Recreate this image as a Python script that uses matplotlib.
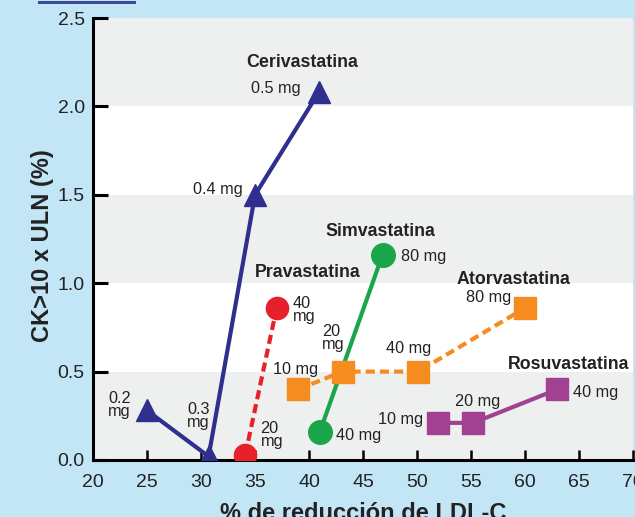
import matplotlib.pyplot as plt
from matplotlib.patches import Rectangle

plt.rcParams['font.family'] = ['Liberation Sans', 'DejaVu Sans']

# data: % LDL-C reduction vs CK>10xULN (%)
ceriva_x = [25, 30.7, 35, 40.9]
ceriva_y = [0.28, 0.02, 1.50, 2.08]
ceriva_doses = ['0.2\nmg', '0.3\nmg', '0.4 mg', '0.5 mg']

prava_x = [34.1, 37.0]
prava_y = [0.03, 0.86]
prava_doses = ['20\nmg', '40\nmg']

simva_x = [41.0, 46.8]
simva_y = [0.16, 1.16]
simva_doses = ['40 mg', '80 mg']

atorva_x = [39.0, 43.1, 50.1, 60.0]
atorva_y = [0.40, 0.50, 0.50, 0.86]
atorva_doses = ['10 mg', '20\nmg', '40 mg', '80 mg']

rosuva_x = [51.9, 55.2, 63.0]
rosuva_y = [0.21, 0.21, 0.40]
rosuva_doses = ['10 mg', '20 mg', '40 mg']

xticks = [20, 25, 30, 35, 40, 45, 50, 55, 60, 65, 70]
yticks = [0.0, 0.5, 1.0, 1.5, 2.0, 2.5]

# colours
bg = '#c3e6f7'
band = '#eef0f0'
navy = '#2e2f8e'
red = '#e8202a'
green = '#1ba54b'
orange = '#f68b1f'
purple = '#a1418f'
txt = '#222222'

fig = plt.figure(figsize=(6.35, 5.17), dpi=100, facecolor=bg)
ax = fig.add_axes([0.1465, 0.1103, 0.8505, 0.8547])
ax.set_xlim(20, 70)
ax.set_ylim(0, 2.5)
ax.set_facecolor('white')

# alternating bands
for i, y0 in enumerate(yticks[:-1]):
    if i % 2 == 0:
        ax.axhspan(y0, y0 + 0.5, color=band, zorder=0, lw=0)

# title box edge peeking at the top
fig.patches.append(Rectangle((38 / 635, 1 - 4 / 517), 98 / 635, 2.5 / 517,
                             transform=fig.transFigure, facecolor='#3d4a9c',
                             edgecolor='none'))

lw = 3.0
ax.plot(ceriva_x, ceriva_y, color=navy, lw=lw, marker='^', ms=16.5, zorder=3)
ax.plot(prava_x, prava_y, color=red, lw=lw, ls=(0, (2.2, 1.2)), marker='o', ms=16, zorder=3)
ax.plot(simva_x, simva_y, color=green, lw=lw, marker='o', ms=17, zorder=3)
ax.plot(atorva_x, atorva_y, color=orange, lw=lw, ls=(0, (2.2, 1.2)), marker='s', ms=15.5, zorder=3)
ax.plot(rosuva_x, rosuva_y, color=purple, lw=lw, marker='s', ms=15.5, zorder=3)

# drug names
name_kw = dict(fontsize=12.8, fontweight='bold', color=txt, ha='center', va='center', zorder=4)
ax.text(39.4, 2.25, 'Cerivastatina', **name_kw)
ax.text(39.9, 1.06, 'Pravastatina', **name_kw)
ax.text(46.6, 1.29, 'Simvastatina', **name_kw)
ax.text(58.9, 1.02, 'Atorvastatina', **name_kw)
ax.text(64.0, 0.54, 'Rosuvastatina', **name_kw)

# dose labels
dose_kw = dict(fontsize=11.7, color=txt, va='center', linespacing=0.85, zorder=4)
ax.text(39.2, 2.10, ceriva_doses[3], ha='right', **dose_kw)
ax.text(33.9, 1.53, ceriva_doses[2], ha='right', **dose_kw)
ax.text(21.4, 0.31, ceriva_doses[0], ha='left', **dose_kw)
ax.text(28.7, 0.25, ceriva_doses[1], ha='left', **dose_kw)

ax.text(38.5, 0.85, prava_doses[1], ha='left', **dose_kw)
ax.text(35.5, 0.14, prava_doses[0], ha='left', **dose_kw)

ax.text(48.5, 1.15, simva_doses[1], ha='left', **dose_kw)
ax.text(42.5, 0.14, simva_doses[0], ha='left', **dose_kw)

ax.text(36.7, 0.51, atorva_doses[0], ha='left', **dose_kw)
ax.text(41.2, 0.69, atorva_doses[1], ha='left', **dose_kw)
ax.text(49.2, 0.63, atorva_doses[2], ha='center', **dose_kw)
ax.text(58.7, 0.92, atorva_doses[3], ha='right', **dose_kw)

ax.text(50.6, 0.23, rosuva_doses[0], ha='right', **dose_kw)
ax.text(55.6, 0.33, rosuva_doses[1], ha='center', **dose_kw)
ax.text(64.4, 0.38, rosuva_doses[2], ha='left', **dose_kw)

# axes styling
for side in ['top', 'right']:
    ax.spines[side].set_visible(False)
for side in ['left', 'bottom']:
    ax.spines[side].set_linewidth(2.2)
    ax.spines[side].set_color('black')
ax.set_xticks(xticks)
ax.set_yticks(yticks)
ax.set_yticklabels([f'{v:.1f}' for v in yticks])
ax.tick_params(axis='x', direction='in', length=7, width=1.8, pad=10, labelcolor=txt)
ax.tick_params(axis='y', direction='in', length=11, width=2.2, pad=6, labelcolor=txt)
for lab in ax.get_xticklabels() + ax.get_yticklabels():
    lab.set_family(['Liberation Sans Narrow', 'Liberation Sans'])
    lab.set_fontsize(14)
ax.set_xlabel('% de reducción de LDL-C', fontsize=17, fontweight='bold', color=txt, labelpad=8)
ax.set_ylabel('CK>10 x ULN (%)', fontsize=17, fontweight='bold', color=txt, labelpad=2)
ax.yaxis.set_label_coords(-0.073, 0.485)

plt.savefig('out.png', dpi=100, facecolor=bg)
plt.close()
